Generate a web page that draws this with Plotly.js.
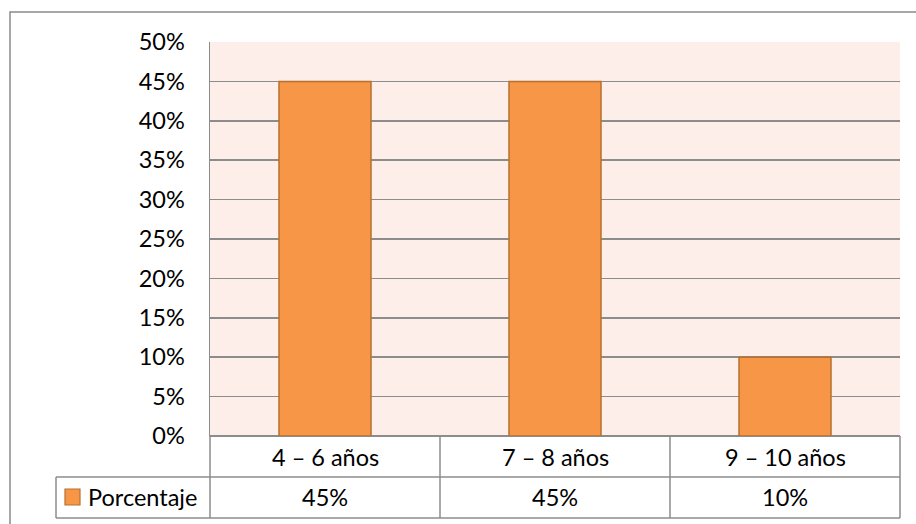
<!DOCTYPE html>
<html>
<head>
<meta charset="utf-8">
<script src="https://cdn.plot.ly/plotly-3.0.1.min.js"></script>
<style>html,body{margin:0;padding:0;background:#fff;}#chart{width:916px;height:524px;}</style>
</head>
<body>
<div id="chart"></div>
<script>
const categories = ["4 – 6 años", "7 – 8 años", "9 – 10 años"];
const seriesName = "Porcentaje";
const values = [0.45, 0.45, 0.10];
const valueLabels = ["45%", "45%", "10%"];
const yTickVals = [0, 0.05, 0.10, 0.15, 0.20, 0.25, 0.30, 0.35, 0.40, 0.45, 0.50];

// layout geometry (pixels)
const W = 916, H = 524;
const L = 210, R = 900, T = 42, B = 436;
const pw = R - L, ph = B - T;
const px = x => (x - L) / pw;
const py = y => (B - y) / ph;

const FONT = "Lato, 'Open Sans', sans-serif";
const FS = 23.5;
const GRID = "#8c8c8c";
const BAR = "#F79646";
const BAR_LINE = "#B8702F";

const trace = {
  type: "bar",
  x: categories,
  y: values,
  name: seriesName,
  marker: { color: BAR, line: { color: BAR_LINE, width: 1.5 } },
  hoverinfo: "skip"
};

const row1Y = py(477), row2Y = py(518);
const shapes = [
  // outer chart border
  { type: "rect", xref: "paper", yref: "paper", x0: px(10), x1: px(930), y0: py(12), y1: py(540),
    line: { color: "#8a8a8a", width: 1.5 }, layer: "below" },
  // table horizontal lines
  { type: "line", xref: "paper", yref: "paper", x0: px(56), x1: px(R), y0: row1Y, y1: row1Y, line: { color: GRID, width: 1.5 } },
  { type: "line", xref: "paper", yref: "paper", x0: px(56), x1: px(R), y0: row2Y, y1: row2Y, line: { color: GRID, width: 1.5 } },
  // legend cell left
  { type: "line", xref: "paper", yref: "paper", x0: px(56), x1: px(56), y0: row1Y, y1: row2Y, line: { color: GRID, width: 1.5 } },
  // legend marker
  { type: "rect", xref: "paper", yref: "paper", x0: px(65), x1: px(80), y0: py(489), y1: py(505),
    fillcolor: BAR, line: { color: BAR_LINE, width: 1.2 } }
];
// table vertical lines at category boundaries
[L, L + pw / 3, L + 2 * pw / 3, R].forEach(xp => {
  shapes.push({ type: "line", xref: "paper", yref: "paper", x0: px(xp), x1: px(xp), y0: 0, y1: row2Y,
    line: { color: GRID, width: 1.5 } });
});

const annotations = [];
categories.forEach((c, i) => {
  annotations.push({ xref: "x", yref: "paper", x: c, y: py(456.5), text: c, showarrow: false,
    font: { family: FONT, size: FS, color: "#000" }, xanchor: "center", yanchor: "middle" });
  annotations.push({ xref: "x", yref: "paper", x: c, y: py(497), text: valueLabels[i], showarrow: false,
    font: { family: FONT, size: FS, color: "#000" }, xanchor: "center", yanchor: "middle" });
});
annotations.push({ xref: "paper", yref: "paper", x: px(86), y: py(497), text: seriesName, showarrow: false,
  font: { family: FONT, size: FS, color: "#000" }, xanchor: "left", yanchor: "middle" });

const layout = {
  width: W, height: H,
  margin: { l: L, r: W - R, t: T, b: H - B, pad: 0 },
  paper_bgcolor: "#ffffff",
  plot_bgcolor: "#FDEEE9",
  showlegend: false,
  bargap: 0.6,
  font: { family: FONT, size: FS, color: "#000" },
  xaxis: { showticklabels: false, showgrid: false, zeroline: false, showline: false, ticks: "", fixedrange: true },
  yaxis: {
    range: [0, 0.5], tickvals: yTickVals, tickformat: ".0%",
    showgrid: true, gridcolor: GRID, gridwidth: 1.5,
    zeroline: true, zerolinecolor: GRID, zerolinewidth: 1.5,
    showline: true, linecolor: GRID, linewidth: 1.5,
    ticks: "", ticklabelstandoff: 19,
    tickfont: { family: FONT, size: FS, color: "#000" }, fixedrange: true
  },
  shapes: shapes,
  annotations: annotations
};

Plotly.newPlot("chart", [trace], layout, { displayModeBar: false, staticPlot: true });
</script>
</body>
</html>
